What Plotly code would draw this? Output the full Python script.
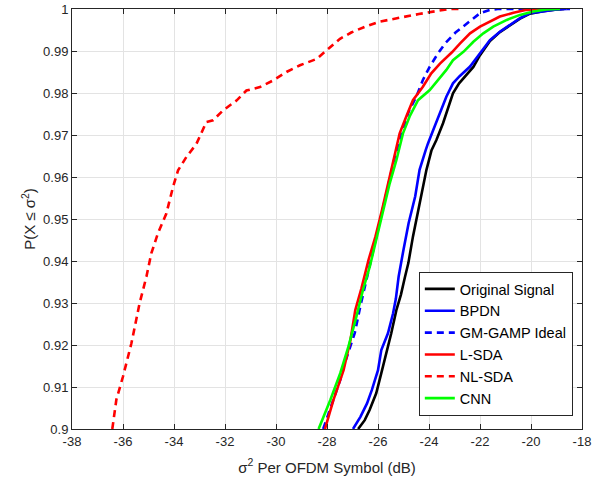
import plotly.graph_objects as go

# ---- data ----
orig_x = [-26.78, -26.52, -26.33, -26.07, -25.87, -25.67, -25.48, -25.28, -25.10, -24.95, -24.81, -24.63,
          -24.41, -24.25, -24.10, -23.90, -23.71, -23.45, -23.25, -23.06, -22.82, -22.65, -22.26, -22.00,
          -21.61, -21.22, -20.82, -20.43, -20.04, -19.52, -19.00, -18.70]
orig_y = [0.9000, 0.9021, 0.9045, 0.9085, 0.9133, 0.9180, 0.9228, 0.9283, 0.9320, 0.9360, 0.9395, 0.9458,
          0.9522, 0.9569, 0.9617, 0.9664, 0.9688, 0.9728, 0.9767, 0.9799, 0.9823, 0.9835, 0.9862, 0.9890,
          0.9924, 0.9945, 0.9961, 0.9977, 0.9989, 0.9995, 0.9999, 1.0000]

bpdn_x = [-26.98, -26.69, -26.43, -26.24, -26.00, -25.87, -25.61, -25.41, -25.30, -25.19, -25.00, -24.80,
          -24.54, -24.37, -24.13, -24.04, -23.78, -23.52, -23.32, -23.06, -22.80, -22.39, -22.00, -21.61,
          -21.22, -20.82, -20.43, -20.04, -19.52, -18.99, -18.60]
bpdn_y = [0.9000, 0.9029, 0.9061, 0.9093, 0.9140, 0.9188, 0.9228, 0.9275, 0.9310, 0.9363, 0.9427, 0.9490,
          0.9554, 0.9617, 0.9664, 0.9680, 0.9720, 0.9759, 0.9791, 0.9823, 0.9840, 0.9863, 0.9894, 0.9926,
          0.9946, 0.9962, 0.9978, 0.9990, 0.9995, 0.9999, 1.0000]

gamp_x = [-28.15, -27.85, -27.48, -27.35, -27.08, -26.91, -26.70, -26.40, -26.10, -25.85, -25.60, -25.35,
          -25.10, -24.80, -24.50, -24.24, -23.97, -23.65, -23.37, -22.96, -22.52, -22.00, -21.61, -21.30,
          -18.47]
gamp_y = [0.9000, 0.9050, 0.9117, 0.9148, 0.9196, 0.9229, 0.9290, 0.9370, 0.9450, 0.9520, 0.9580, 0.9645,
          0.9700, 0.9755, 0.9791, 0.9831, 0.9863, 0.9894, 0.9918, 0.9944, 0.9966, 0.9990, 0.9998, 1.0000,
          1.0000]

lsda_x = [-28.08, -27.94, -27.75, -27.35, -27.08, -26.89, -26.65, -26.37, -26.10, -25.84, -25.61, -25.41,
          -25.15, -24.89, -24.63, -24.24, -23.91, -23.57, -23.10, -22.78, -22.39, -22.00, -21.61, -21.22,
          -20.69, -20.17, -19.65, -19.25]
lsda_y = [0.9000, 0.9029, 0.9069, 0.9140, 0.9212, 0.9283, 0.9335, 0.9403, 0.9458, 0.9522, 0.9585, 0.9640,
          0.9704, 0.9744, 0.9783, 0.9815, 0.9847, 0.9870, 0.9897, 0.9918, 0.9942, 0.9958, 0.9970, 0.9982,
          0.9991, 0.9998, 1.0000, 1.0000]

nlsda_x = [-36.42, -36.26, -36.00, -35.67, -35.35, -35.08, -34.89, -34.63, -34.30, -34.04, -33.84, -33.51,
           -33.12, -32.73, -32.47, -32.07, -31.55, -31.16, -30.63, -30.11, -29.59, -29.06, -28.41, -28.02,
           -27.49, -27.05, -26.50, -25.93, -25.00, -24.40, -23.72, -23.20, -22.70]
nlsda_y = [0.9000, 0.9070, 0.9125, 0.9204, 0.9299, 0.9363, 0.9418, 0.9466, 0.9513, 0.9576, 0.9616, 0.9648,
           0.9679, 0.9731, 0.9735, 0.9759, 0.9782, 0.9806, 0.9814, 0.9830, 0.9850, 0.9866, 0.9881, 0.9901,
           0.9929, 0.9944, 0.9958, 0.9970, 0.9982, 0.9988, 0.9995, 1.0000, 1.0000]

cnn_x = [-28.33, -27.87, -27.48, -27.16, -26.85, -26.59, -26.32, -26.07, -25.80, -25.54, -25.28, -25.02,
         -24.76, -24.43, -23.97, -23.58, -23.32, -23.06, -22.65, -22.26, -21.87, -21.48, -20.95, -20.43,
         -19.91, -19.39, -18.86]
cnn_y = [0.9000, 0.9069, 0.9133, 0.9196, 0.9267, 0.9331, 0.9387, 0.9450, 0.9522, 0.9585, 0.9640, 0.9704,
         0.9744, 0.9783, 0.9807, 0.9837, 0.9855, 0.9878, 0.9898, 0.9922, 0.9942, 0.9958, 0.9974, 0.9986,
         0.9994, 0.9999, 1.0000]

x_ticks = list(range(-38, -17, 2))
x_tick_text = ["-38", "-36", "-34", "-32", "-30", "-28", "-26", "-24", "-22", "-20", "-18"]
y_ticks = [0.90, 0.91, 0.92, 0.93, 0.94, 0.95, 0.96, 0.97, 0.98, 0.99, 1.00]
y_tick_text = ["0.9", "0.91", "0.92", "0.93", "0.94", "0.95", "0.96", "0.97", "0.98", "0.99", "1"]

series = [
    ("Original Signal", orig_x, orig_y, "#000000", "solid"),
    ("BPDN", bpdn_x, bpdn_y, "#0000FF", "solid"),
    ("GM-GAMP Ideal", gamp_x, gamp_y, "#0000FF", "7px,5px"),
    ("L-SDA", lsda_x, lsda_y, "#FF0000", "solid"),
    ("NL-SDA", nlsda_x, nlsda_y, "#FF0000", "7px,5px"),
    ("CNN", cnn_x, cnn_y, "#00FF00", "solid"),
]

fig = go.Figure()
for name, xs, ys, col, dash in series:
    fig.add_trace(go.Scatter(x=xs, y=ys, mode="lines", name=name,
                             line=dict(color=col, width=2.6, dash=dash)))

FONT = "Liberation Sans, Arial, Helvetica, sans-serif"
axis_common = dict(showline=True, linecolor="#262626", linewidth=1, mirror="ticks",
                   ticks="inside", ticklen=5, tickcolor="#262626", automargin=False,
                   showgrid=True, gridcolor="#e3e3e3", gridwidth=1, zeroline=False,
                   tickfont=dict(family=FONT, size=13, color="#262626"))

fig.update_layout(
    width=603, height=482,
    margin=dict(l=72, r=21, t=9, b=53),
    paper_bgcolor="white", plot_bgcolor="white",
    font=dict(family=FONT, size=13, color="#262626"),
    xaxis=dict(range=[-38, -18], tickvals=x_ticks, ticktext=x_tick_text,
               title=dict(text="σ<sup>2</sup> Per OFDM Symbol (dB)", font=dict(size=15), standoff=14),
               **axis_common),
    yaxis=dict(range=[0.9, 1.0], tickvals=y_ticks, ticktext=y_tick_text,
               title=dict(text="P(X ≤ σ<sup>2</sup>)", font=dict(size=15), standoff=3), **axis_common),
    legend=dict(x=0.982, y=0.031, xanchor="right", yanchor="bottom",
                bgcolor="white", bordercolor="#262626", borderwidth=1,
                font=dict(family=FONT, size=14.5, color="#000000"),
                itemwidth=30, tracegroupgap=0),
    showlegend=True,
)

fig.write_html("out.html", config={"displayModeBar": False},
               post_script="document.body.style.margin='0px';")
